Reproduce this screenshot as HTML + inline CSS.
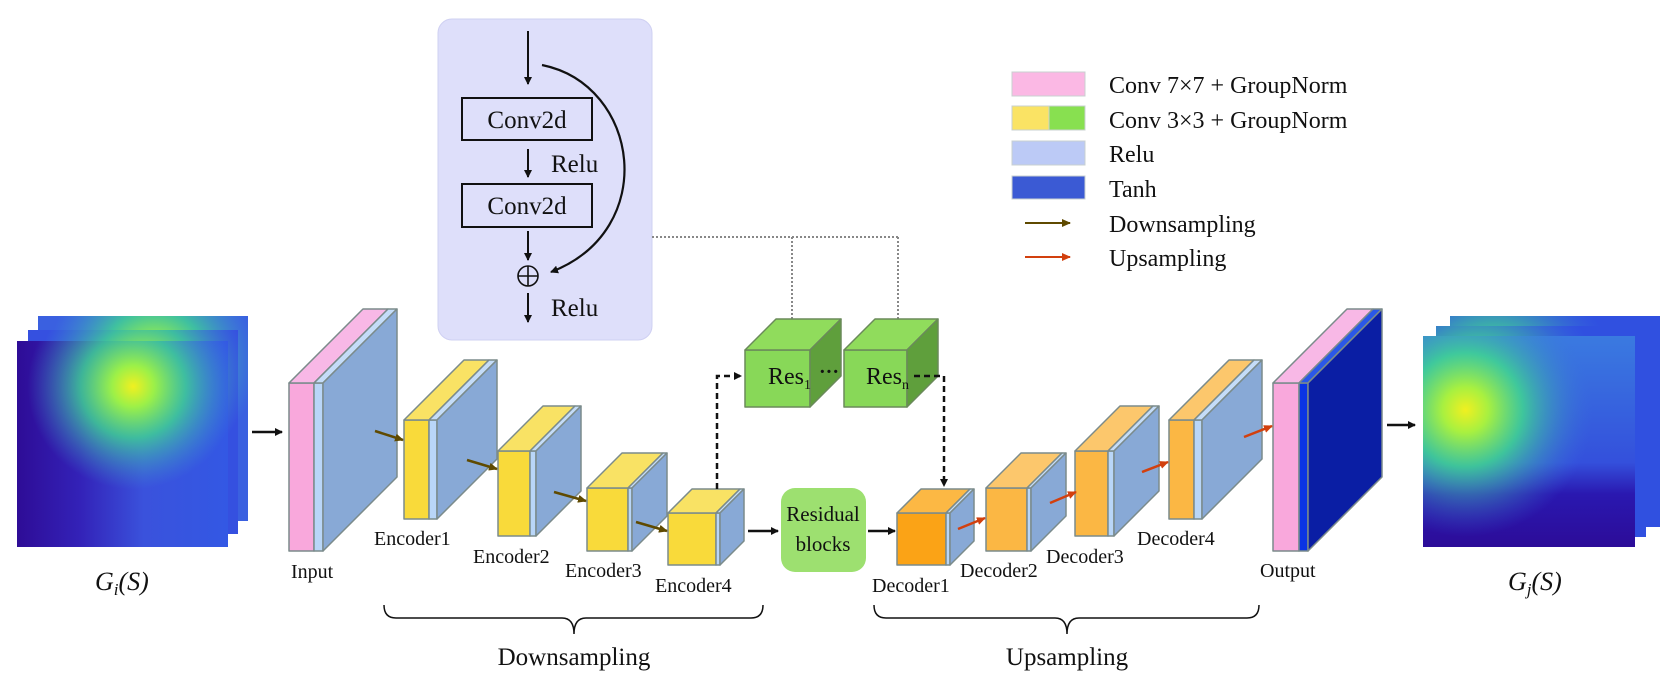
<!DOCTYPE html>
<html><head><meta charset="utf-8"><style>
html,body{margin:0;padding:0;background:#fff;}
svg{display:block;}
text{font-family:"Liberation Serif",serif;fill:#111;}
</style></head><body>
<svg width="1660" height="684" viewBox="0 0 1660 684" xmlns="http://www.w3.org/2000/svg">
<defs>
<marker id="ab" markerWidth="8" markerHeight="8" refX="7" refY="4" orient="auto" markerUnits="userSpaceOnUse"><path d="M0,0 L8,4 L0,8 z" fill="#111"/></marker>
<marker id="abr" markerWidth="9" markerHeight="8" refX="8" refY="4" orient="auto" markerUnits="userSpaceOnUse"><path d="M0,0 L9,4 L0,8 z" fill="#5f4a00"/></marker>
<marker id="ard" markerWidth="9" markerHeight="8" refX="8" refY="4" orient="auto" markerUnits="userSpaceOnUse"><path d="M0,0 L9,4 L0,8 z" fill="#d2400e"/></marker>
<linearGradient id="lb" x1="0" y1="0" x2="1" y2="0"><stop offset="0" stop-color="#2e0c96"/><stop offset="0.3" stop-color="#3322b8"/><stop offset="0.6" stop-color="#3a52dc"/><stop offset="1" stop-color="#3358e4"/></linearGradient>
<radialGradient id="ly" cx="0.55" cy="0.22" r="0.5"><stop offset="0" stop-color="#f0f020"/><stop offset="0.2" stop-color="#9cf048"/><stop offset="0.5" stop-color="#40d890" stop-opacity="0.8"/><stop offset="1" stop-color="#40a0d0" stop-opacity="0"/></radialGradient>
<radialGradient id="rb" cx="0.2" cy="0.35" r="0.6"><stop offset="0" stop-color="#f0f020"/><stop offset="0.18" stop-color="#a8f040"/><stop offset="0.45" stop-color="#40d890" stop-opacity="0.85"/><stop offset="1" stop-color="#3a70e0" stop-opacity="0"/></radialGradient>
<linearGradient id="rbase" x1="0" y1="0" x2="0" y2="1"><stop offset="0" stop-color="#3a7ae0"/><stop offset="0.6" stop-color="#3450dc"/><stop offset="0.75" stop-color="#2a18b0"/><stop offset="1" stop-color="#2c0c98"/></linearGradient>
</defs>

<rect x="38" y="316" width="210" height="205" fill="#3a60e0"/>
<rect x="38" y="316" width="210" height="205" fill="url(#ly)"/>
<rect x="28" y="330" width="210" height="204" fill="#3550e0"/>
<rect x="28" y="330" width="210" height="204" fill="url(#ly)"/>
<rect x="17" y="341" width="211" height="206" fill="url(#lb)"/>
<rect x="17" y="341" width="211" height="206" fill="url(#ly)"/>
<text x="95" y="590" font-size="26" font-style="italic">G<tspan font-size="17" dy="5">i</tspan><tspan dy="-5">(S)</tspan></text>
<line x1="252" y1="432" x2="282" y2="432" stroke="#111" stroke-width="2.5" marker-end="url(#ab)"/>

<rect x="1450" y="316" width="210" height="211" fill="#3050e0"/>
<rect x="1450" y="316" width="210" height="211" fill="url(#rb)"/>
<rect x="1436" y="326" width="210" height="211" fill="#3050e0"/>
<rect x="1436" y="326" width="210" height="211" fill="url(#rb)"/>
<rect x="1423" y="336" width="212" height="211" fill="url(#rbase)"/>
<rect x="1423" y="336" width="212" height="211" fill="url(#rb)"/>
<text x="1508" y="590" font-size="26" font-style="italic">G<tspan font-size="17" dy="5">j</tspan><tspan dy="-5">(S)</tspan></text>
<line x1="1387" y1="425" x2="1415" y2="425" stroke="#111" stroke-width="2.5" marker-end="url(#ab)"/>

<rect x="438" y="19" width="214" height="321" rx="14" fill="#dedffa" stroke="#cfd0f2"/>
<line x1="528" y1="31" x2="528" y2="84" stroke="#111" stroke-width="2" marker-end="url(#ab)"/>
<rect x="462" y="98" width="130" height="42" fill="none" stroke="#111" stroke-width="2"/>
<text x="527" y="128" font-size="25" text-anchor="middle">Conv2d</text>
<line x1="528" y1="149" x2="528" y2="177" stroke="#111" stroke-width="2" marker-end="url(#ab)"/>
<text x="551" y="172" font-size="25">Relu</text>
<rect x="462" y="184" width="130" height="43" fill="none" stroke="#111" stroke-width="2"/>
<text x="527" y="214" font-size="25" text-anchor="middle">Conv2d</text>
<line x1="528" y1="231" x2="528" y2="260" stroke="#111" stroke-width="2" marker-end="url(#ab)"/>
<circle cx="528" cy="276" r="10" fill="none" stroke="#111" stroke-width="1.6"/>
<line x1="518" y1="276" x2="538" y2="276" stroke="#111" stroke-width="1.6"/>
<line x1="528" y1="266" x2="528" y2="286" stroke="#111" stroke-width="1.6"/>
<path d="M542,65 C640,85 660,230 551,272" fill="none" stroke="#111" stroke-width="2.2" marker-end="url(#ab)"/>
<line x1="528" y1="293" x2="528" y2="322" stroke="#111" stroke-width="2" marker-end="url(#ab)"/>
<text x="551" y="316" font-size="25">Relu</text>

<path d="M652,237 H898 M792,237 V328 M898,237 V328" fill="none" stroke="#888" stroke-width="2" stroke-dasharray="2,2"/>

<rect x="1012" y="72" width="73" height="24" fill="#fbb8e4" stroke="#c8d0d0"/>
<rect x="1012" y="106" width="37" height="24" fill="#fae364" stroke="#c8d0d0"/>
<rect x="1049" y="106" width="36" height="24" fill="#88e050" stroke="#c8d0d0"/>
<rect x="1012" y="141" width="73" height="24" fill="#bccaf6" stroke="#c8d0d0"/>
<rect x="1012" y="176" width="73" height="23" fill="#3b5ad4" stroke="#c8d0d0"/>
<line x1="1025" y1="223" x2="1070" y2="223" stroke="#5f4a00" stroke-width="2" marker-end="url(#abr)"/>
<line x1="1025" y1="257" x2="1070" y2="257" stroke="#d2400e" stroke-width="2" marker-end="url(#ard)"/>
<g font-size="24">
<text x="1109" y="93">Conv 7×7 + GroupNorm</text>
<text x="1109" y="128">Conv 3×3 + GroupNorm</text>
<text x="1109" y="162">Relu</text>
<text x="1109" y="197">Tanh</text>
<text x="1109" y="232">Downsampling</text>
<text x="1109" y="266">Upsampling</text>
</g>

<g stroke="#7b8b8b" stroke-width="1.5" stroke-linejoin="round">
<rect x="289" y="383" width="25" height="168" fill="#f9a8dc"/>
<rect x="314" y="383" width="9" height="168" fill="#b9d6f8"/>
<polygon points="289,383 314,383 388,309 363,309" fill="#f8b8e6"/>
<polygon points="314,383 323,383 397,309 388,309" fill="#c4dcf8"/>
<polygon points="323,383 397,309 397,477 323,551" fill="#88a9d6"/>
<rect x="404" y="420" width="25" height="99" fill="#f9da3a"/>
<rect x="429" y="420" width="8" height="99" fill="#b9d6f8"/>
<polygon points="404,420 429,420 489,360 464,360" fill="#f9e264"/>
<polygon points="429,420 437,420 497,360 489,360" fill="#c4dcf8"/>
<polygon points="437,420 497,360 497,459 437,519" fill="#88a9d6"/>
<rect x="498" y="451" width="32" height="85" fill="#f9da3a"/>
<rect x="530" y="451" width="6" height="85" fill="#b9d6f8"/>
<polygon points="498,451 530,451 575,406 543,406" fill="#f9e264"/>
<polygon points="530,451 536,451 581,406 575,406" fill="#c4dcf8"/>
<polygon points="536,451 581,406 581,491 536,536" fill="#88a9d6"/>
<rect x="587" y="488" width="41" height="63" fill="#f9da3a"/>
<rect x="628" y="488" width="4" height="63" fill="#b9d6f8"/>
<polygon points="587,488 628,488 663,453 622,453" fill="#f9e264"/>
<polygon points="628,488 632,488 667,453 663,453" fill="#c4dcf8"/>
<polygon points="632,488 667,453 667,516 632,551" fill="#88a9d6"/>
<rect x="668" y="513" width="48" height="52" fill="#f9da3a"/>
<rect x="716" y="513" width="4" height="52" fill="#b9d6f8"/>
<polygon points="668,513 716,513 740,489 692,489" fill="#f9e264"/>
<polygon points="716,513 720,513 744,489 740,489" fill="#c4dcf8"/>
<polygon points="720,513 744,489 744,541 720,565" fill="#88a9d6"/>
<rect x="897" y="513" width="49" height="52" fill="#fba316"/>
<rect x="946" y="513" width="4" height="52" fill="#b9d6f8"/>
<polygon points="897,513 946,513 970,489 921,489" fill="#fcb844"/>
<polygon points="946,513 950,513 974,489 970,489" fill="#c4dcf8"/>
<polygon points="950,513 974,489 974,541 950,565" fill="#88a9d6"/>
<rect x="986" y="488" width="41" height="63" fill="#fbb744"/>
<rect x="1027" y="488" width="4" height="63" fill="#b9d6f8"/>
<polygon points="986,488 1027,488 1062,453 1021,453" fill="#fcc76c"/>
<polygon points="1027,488 1031,488 1066,453 1062,453" fill="#c4dcf8"/>
<polygon points="1031,488 1066,453 1066,516 1031,551" fill="#88a9d6"/>
<rect x="1075" y="451" width="33" height="85" fill="#fbb744"/>
<rect x="1108" y="451" width="6" height="85" fill="#b9d6f8"/>
<polygon points="1075,451 1108,451 1153,406 1120,406" fill="#fcc76c"/>
<polygon points="1108,451 1114,451 1159,406 1153,406" fill="#c4dcf8"/>
<polygon points="1114,451 1159,406 1159,491 1114,536" fill="#88a9d6"/>
<rect x="1169" y="420" width="25" height="99" fill="#fbb744"/>
<rect x="1194" y="420" width="8" height="99" fill="#b9d6f8"/>
<polygon points="1169,420 1194,420 1254,360 1229,360" fill="#fcc76c"/>
<polygon points="1194,420 1202,420 1262,360 1254,360" fill="#c4dcf8"/>
<polygon points="1202,420 1262,360 1262,459 1202,519" fill="#88a9d6"/>
<rect x="1273" y="383" width="26" height="168" fill="#f9a8dc"/>
<rect x="1299" y="383" width="9" height="168" fill="#0a34e4"/>
<polygon points="1273,383 1299,383 1373,309 1347,309" fill="#f8b8e6"/>
<polygon points="1299,383 1308,383 1382,309 1373,309" fill="#2a58e8"/>
<polygon points="1308,383 1382,309 1382,477 1308,551" fill="#0a1ea4"/>
</g>
<g stroke="#6a8a5a" stroke-width="1.5" stroke-linejoin="round">
<rect x="745" y="350" width="65" height="57" fill="#88d858"/>
<polygon points="745,350 810,350 841,319 776,319" fill="#90dc5c"/>
<polygon points="810,350 841,319 841,376 810,407" fill="#5f9f3c"/>
<rect x="844" y="350" width="63" height="57" fill="#88d858"/>
<polygon points="844,350 907,350 938,319 875,319" fill="#90dc5c"/>
<polygon points="907,350 938,319 938,376 907,407" fill="#5f9f3c"/>
</g>
<text x="768" y="384" font-size="24">Res<tspan font-size="14" dy="5">1</tspan></text>
<text x="866" y="384" font-size="24">Res<tspan font-size="14" dy="5">n</tspan></text>
<text x="829" y="378" font-size="20" text-anchor="middle" font-weight="bold">···</text>

<g stroke="#5f4a00" stroke-width="2.5">
<line x1="375" y1="431" x2="403" y2="440" marker-end="url(#abr)"/>
<line x1="467" y1="460" x2="497" y2="469" marker-end="url(#abr)"/>
<line x1="554" y1="492" x2="586" y2="501" marker-end="url(#abr)"/>
<line x1="636" y1="522" x2="667" y2="531" marker-end="url(#abr)"/>
</g>
<g stroke="#d2400e" stroke-width="2.5">
<line x1="958" y1="529" x2="985" y2="518" marker-end="url(#ard)"/>
<line x1="1050" y1="503" x2="1076" y2="492" marker-end="url(#ard)"/>
<line x1="1142" y1="472" x2="1168" y2="462" marker-end="url(#ard)"/>
<line x1="1244" y1="437" x2="1272" y2="426" marker-end="url(#ard)"/>
</g>

<rect x="781" y="488" width="85" height="84" rx="14" fill="#9de070"/>
<text x="823" y="521" font-size="21" text-anchor="middle">Residual</text>
<text x="823" y="551" font-size="21" text-anchor="middle">blocks</text>
<line x1="748" y1="531" x2="778" y2="531" stroke="#111" stroke-width="2.5" marker-end="url(#ab)"/>
<line x1="868" y1="531" x2="895" y2="531" stroke="#111" stroke-width="2.5" marker-end="url(#ab)"/>
<path d="M717,489 V376 H741" fill="none" stroke="#111" stroke-width="2.5" stroke-dasharray="6,4" marker-end="url(#ab)"/>
<path d="M914,376 H944 V486" fill="none" stroke="#111" stroke-width="2.5" stroke-dasharray="6,4" marker-end="url(#ab)"/>

<g font-size="20">
<text x="291" y="578">Input</text>
<text x="374" y="545">Encoder1</text>
<text x="473" y="563">Encoder2</text>
<text x="565" y="577">Encoder3</text>
<text x="655" y="592">Encoder4</text>
<text x="872" y="592">Decoder1</text>
<text x="960" y="577">Decoder2</text>
<text x="1046" y="563">Decoder3</text>
<text x="1137" y="545">Decoder4</text>
<text x="1260" y="577">Output</text>
</g>
<path d="M384,605 Q384,618 396,618 L562,618 Q574,618 574,634 Q574,618 586,618 L751,618 Q763,618 763,605" fill="none" stroke="#111" stroke-width="1.5"/>
<path d="M874,605 Q874,618 886,618 L1055,618 Q1067,618 1067,634 Q1067,618 1079,618 L1247,618 Q1259,618 1259,605" fill="none" stroke="#111" stroke-width="1.5"/>
<text x="574" y="665" font-size="25" text-anchor="middle">Downsampling</text>
<text x="1067" y="665" font-size="25" text-anchor="middle">Upsampling</text>
</svg>
</body></html>
